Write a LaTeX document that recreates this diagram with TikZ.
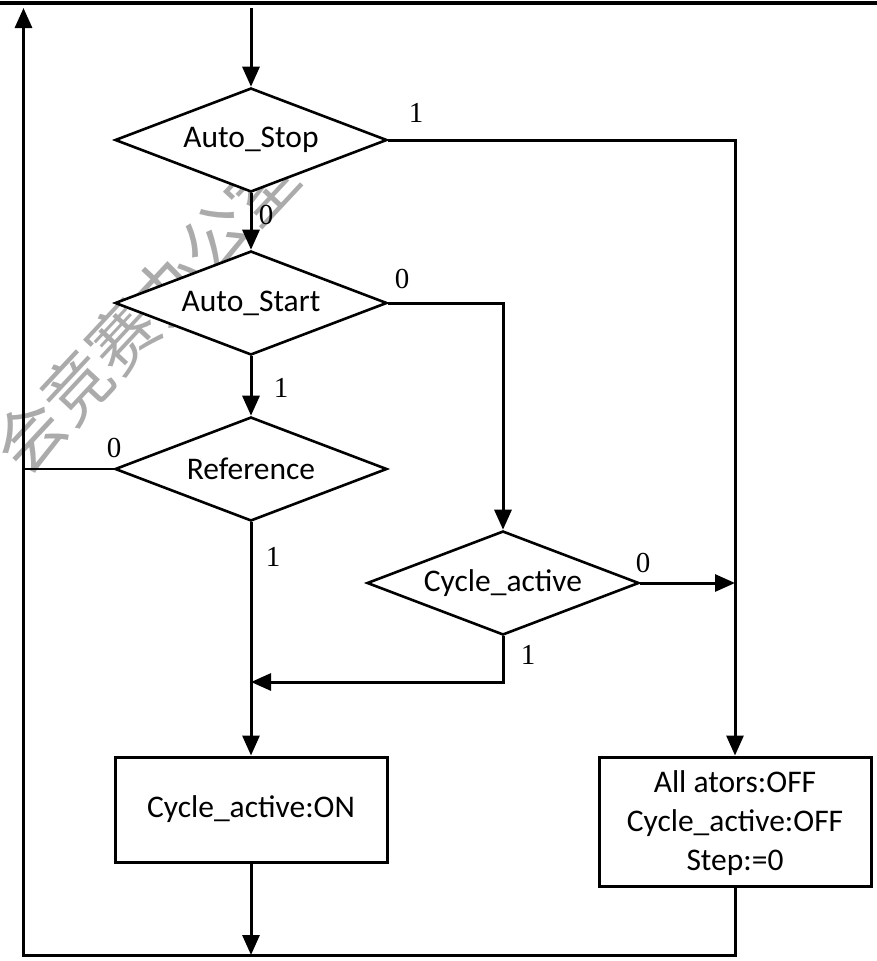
\documentclass[tikz,border=0pt]{standalone}
\usepackage{fontspec}
\setmainfont{Carlito}
\newfontfamily\labfont{Liberation Serif}
\newfontfamily\cjk{Noto Sans CJK SC}
\usetikzlibrary{shapes.geometric,arrows.meta}
\begin{document}
\begin{tikzpicture}[x=1pt,y=-1pt,
  dec/.style={diamond, draw, fill=white, line width=2.6pt, aspect=2.615, minimum width=272pt, minimum height=104pt, inner sep=0pt, font=\fontsize{31.5}{38}\selectfont},
  act/.style={rectangle, draw, fill=white, line width=3pt, minimum width=272pt, align=center, inner sep=0pt, font=\fontsize{31.5}{39}\selectfont},
  flow/.style={line width=3pt, -{Triangle[length=20pt,width=17pt]}},
  lab/.style={font=\labfont\fontsize{29}{30}\selectfont, inner sep=0pt},
]
\useasboundingbox (0,0) rectangle (877,961);
% watermark
\node[text=black!33, rotate=47, inner sep=0pt, font=\cjk\fontsize{68}{68}\selectfont] (wm) at (146,312) {会竞赛办公室};
% top rule
\coordinate (ruleL) at (0,3.3);
\coordinate (ruleR) at (877,3.3);
\draw[line width=3.8pt] (ruleL) -- (ruleR);
% nodes
\node[dec] (stop) at (251,140) {Auto\_Stop};
\node[dec] (start) at (251,303) {Auto\_Start};
\node[dec] (ref) at (251,469) {Reference};
\node[dec] (cyc) at (503,583) {Cycle\_active};
\node[act, minimum height=105pt] (on) at (251,809.5) {Cycle\_active:ON};
\node[act, minimum height=129pt] (off) at (735,821.5) {\rule{0pt}{26pt}All ators:OFF\\Cycle\_active:OFF\\Step:=0};
% helper coordinates
\coordinate (in) at (251,8);
\coordinate (merge) at (251,682);
\coordinate (bot) at (251,955);
\coordinate (lb) at (23.5,955);
\coordinate (lt) at (23.5,8);
% connectors
\draw[flow] (in) -- (stop.north);
\draw[flow] (stop.south) -- (start.north);
\draw[flow] (start.south) -- (ref.north);
\draw[flow] (stop.east) -| (off.north);
\draw[flow] (start.east) -| (cyc.north);
\draw[flow] (cyc.east) -- (cyc.east -| off.north);
\draw[flow] (cyc.south) |- (merge);
\draw[flow] (ref.south) -- (on.north);
\draw[flow] (on.south) -- (bot);
\draw[flow] (off.south) |- (lb) -- (lt);
\draw[line width=1.8pt] (ref.west) -- (ref.west -| lt);
% labels
\node[lab] (l1) at (416,113) {1};
\node[lab] (l2) at (266,215) {0};
\node[lab] (l3) at (402,279) {0};
\node[lab] (l4) at (281,388) {1};
\node[lab] (l5) at (114,448) {0};
\node[lab] (l6) at (273,557) {1};
\node[lab] (l7) at (643,563) {0};
\node[lab] (l8) at (528,655) {1};
\end{tikzpicture}
\end{document}
